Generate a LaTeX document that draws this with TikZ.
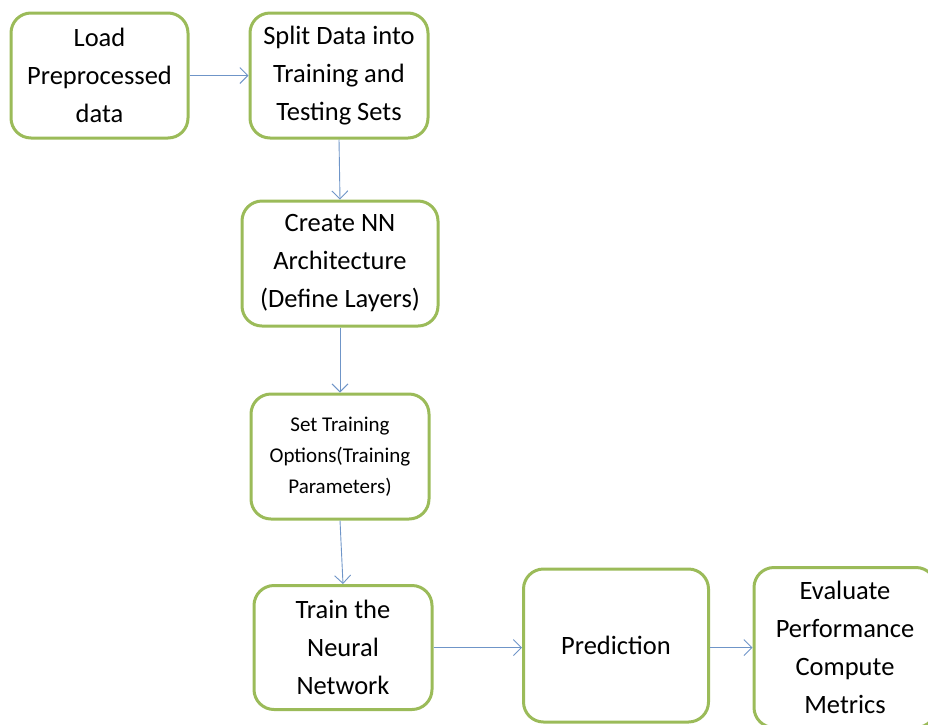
\documentclass[tikz,border=0pt]{standalone}
\usepackage{fontspec}
\setmainfont{Carlito}
\usetikzlibrary{arrows.meta}
\definecolor{boxgreen}{HTML}{9BBB59}
\definecolor{arrowblue}{HTML}{6F95C8}
\tikzset{
  procbox/.style={draw=boxgreen, line width=3pt, rounded corners=20pt, fill=white,
    align=center, inner sep=0pt, font=\fontsize{26.5}{38}\selectfont},
  smalltext/.style={font=\fontsize{21}{31}\selectfont},
  flow/.style={draw=arrowblue, line width=0.9pt, -{Straight Barb[length=8pt,width=16pt]}}
}
\begin{document}
\begin{tikzpicture}[x=1pt,y=-1pt]
\useasboundingbox (0,0) rectangle (928,724);
\clip (0,0) rectangle (928,724);
\node[procbox, minimum width=177pt, minimum height=125pt] (load) at (99.5,75.5) {Load\\Preprocessed\\data};
\node[procbox, minimum width=178pt, minimum height=125pt] (split) at (339,75.5) {Split Data into\\Training and\\Testing Sets};
\node[procbox, minimum width=196pt, minimum height=125pt] (create) at (340,263.5) {Create NN\\Architecture\\(Define Layers)};
\node[procbox, smalltext, minimum width=178pt, minimum height=125pt] (set) at (340,456.5) {Set Training\\Options(Training\\Parameters)};
\node[procbox, minimum width=178pt, minimum height=124pt] (train) at (343,647.5) {Train the\\Neural\\Network};
\node[procbox, minimum width=185pt, minimum height=153pt] (pred) at (616,645.5) {Prediction};
\node[procbox, minimum width=182pt, minimum height=160pt] (eval) at (845,647.5) {Evaluate\\Performance\\Compute\\Metrics};
\draw[flow] (load) -- (split);
\draw[flow] (split.south) -- (create.north);
\draw[flow] (create.south) -- (set.north);
\draw[flow] (set.south) -- (train.north);
\draw[flow] (train.east) -- (train.east -| pred.west);
\draw[flow] (pred.east |- eval.west) -- (eval.west);
\end{tikzpicture}
\end{document}
